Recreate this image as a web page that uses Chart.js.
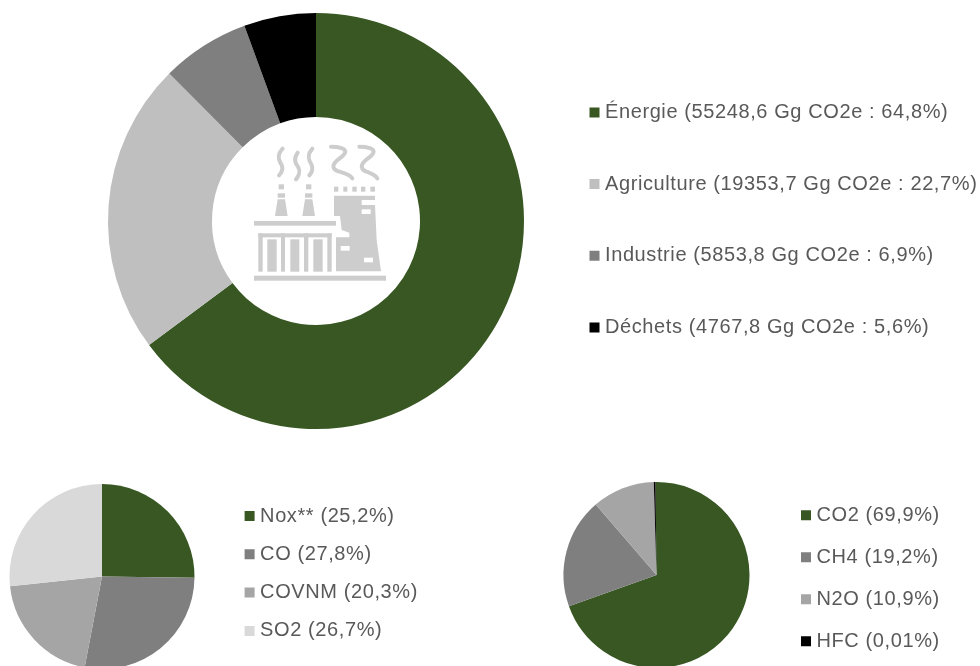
<!DOCTYPE html>
<html lang="fr">
<head>
<meta charset="utf-8">
<title>Émissions</title>
<script src="https://cdn.jsdelivr.net/npm/chart.js@4"></script>
<style>
html,body{margin:0;padding:0;background:#fff;width:980px;height:666px;overflow:hidden}
canvas{position:absolute;display:block}
#icon{position:absolute;left:230px;top:130px;width:170px;height:160px}
</style>
</head>
<body>
<canvas id="mainChart" style="left:0;top:0"></canvas>
<canvas id="airChart" style="left:0;top:474px"></canvas>
<canvas id="gasChart" style="left:490px;top:472px"></canvas>
<svg id="icon" viewBox="0 0 510 480" xmlns="http://www.w3.org/2000/svg" aria-hidden="true">
  <g fill="#cdcdcd">
    <rect x="72" y="437" width="396" height="15"/>
    <rect x="72" y="273" width="246" height="14"/>
    <rect x="85" y="310" width="220" height="12"/>
    <rect x="85" y="310" width="13" height="115"/>
    <rect x="112" y="328" width="28" height="97"/>
    <rect x="153" y="310" width="12" height="115"/>
    <rect x="181" y="328" width="27" height="97"/>
    <rect x="222" y="310" width="13" height="115"/>
    <rect x="250" y="328" width="28" height="97"/>
    <rect x="292" y="310" width="13" height="115"/>
    <polygon points="143,208 165,208 173,258 135,258"/>
    <rect x="143" y="190" width="22" height="13"/>
    <rect x="146" y="163" width="16" height="15"/>
    <polygon points="225,208 247,208 255,258 217,258"/>
    <rect x="225" y="190" width="22" height="13"/>
    <rect x="228" y="163" width="16" height="15"/>
    <rect x="312" y="170" width="13" height="15"/>
    <rect x="340" y="170" width="12" height="15"/>
    <rect x="367" y="170" width="13" height="15"/>
    <rect x="393" y="170" width="13" height="15"/>
    <rect x="421" y="170" width="14" height="15"/>
    <polygon points="312,197 435,197 435,210 395,210 395,225 435,225 440,330 453,424 318,424 318,322 358,322 358,308 335,300 330,258 312,258"/>
  </g>
  <g fill="#fff">
    <rect x="395" y="238" width="27" height="14"/>
    <rect x="332" y="348" width="27" height="14"/>
    <rect x="402" y="383" width="27" height="14"/>
  </g>
  <g fill="none" stroke="#cdcdcd" stroke-width="12" stroke-linecap="round">
    <path d="M158,56 C140,75 145,90 155,105 C160,118 155,128 147,136"/>
    <path d="M203,68 C190,85 195,100 205,112 C212,125 205,140 198,148"/>
    <path d="M247,56 C230,75 235,90 245,105 C250,118 245,128 238,136"/>
    <path d="M303,50 C325,50 350,55 345,68 C338,85 310,90 310,110 C312,130 350,122 367,145"/>
    <path d="M388,50 C410,50 435,55 430,68 C423,85 395,90 395,110 C397,130 425,122 442,145"/>
  </g>
</svg>
<script>
const sectorLabels = ["Énergie (55248,6 Gg CO2e : 64,8%)","Agriculture (19353,7 Gg CO2e : 22,7%)","Industrie (5853,8 Gg CO2e : 6,9%)","Déchets (4767,8 Gg CO2e : 5,6%)"];
const sectorValues = [55248.6, 19353.7, 5853.8, 4767.8];
const sectorColors = ["#385723","#bfbfbf","#7f7f7f","#000000"];

const airLabels = ["Nox** (25,2%)","CO (27,8%)","COVNM (20,3%)","SO2 (26,7%)"];
const airValues = [25.2, 27.8, 20.3, 26.7];
const airColors = ["#385723","#7f7f7f","#a5a5a5","#d9d9d9"];

const gasLabels = ["CO2 (69,9%)","CH4 (19,2%)","N2O (10,9%)","HFC (0,01%)"];
const gasValues = [69.9, 19.2, 10.9, 0.3];
const gasColors = ["#385723","#7f7f7f","#a5a5a5","#000000"];

const TEXT = "#595959";
const FAMILY = "'Liberation Sans', Arial, sans-serif";

// Moves the library's legend to a chosen spot once the layout is done,
// and widens its letter spacing the way the reference text is set.
const legendSpot = {
  id: "legendSpot",
  afterLayout(chart, args, opts) {
    const l = chart.legend;
    l.maxHeight = 1000;
    l.fit();
    l.left = opts.left; l.right = chart.width;
    l.top = opts.top; l.bottom = opts.top + 1000;
  },
  beforeDraw(chart) {
    chart.ctx.letterSpacing = "0.6px";
  }
};

function makeChart(id, w, h, labels, values, colors, pad, cutout, rotation, spot, rowPad) {
  const el = document.getElementById(id);
  el.width = w; el.height = h;
  el.style.width = w + "px"; el.style.height = h + "px";
  return new Chart(el, {
    type: "doughnut",
    data: { labels, datasets: [{ data: values, backgroundColor: colors, borderWidth: 0 }] },
    plugins: [legendSpot],
    options: {
      responsive: false,
      animation: false,
      cutout,
      rotation,
      layout: { padding: pad },
      plugins: {
        tooltip: { enabled: false },
        legendSpot: spot,
        legend: {
          position: "chartArea",
          align: "start",
          labels: {
            color: TEXT,
            usePointStyle: true,
            pointStyle: "rect",
            boxWidth: 1,
            boxHeight: 10,
            padding: rowPad,
            font: { family: FAMILY, size: 20, lineHeight: 1 }
          }
        }
      }
    }
  });
}

makeChart("mainChart", 980, 442, sectorLabels, sectorValues, sectorColors,
  { left: 108, top: 13, right: 456, bottom: 13 }, "50%", 0, { left: 542.3, top: 50.7 }, 51.7);
makeChart("airChart", 490, 200, airLabels, airValues, airColors,
  { left: 9, top: 10, right: 295, bottom: 5 }, 0, 0, { left: 230.8, top: 13.7 }, 18.3);
makeChart("gasChart", 490, 200, gasLabels, gasValues, gasColors,
  { left: 73.5, top: 10, right: 230.5, bottom: 4 }, 0, -0.6, { left: 293.5, top: 11.2 }, 22);
</script>
</body>
</html>
